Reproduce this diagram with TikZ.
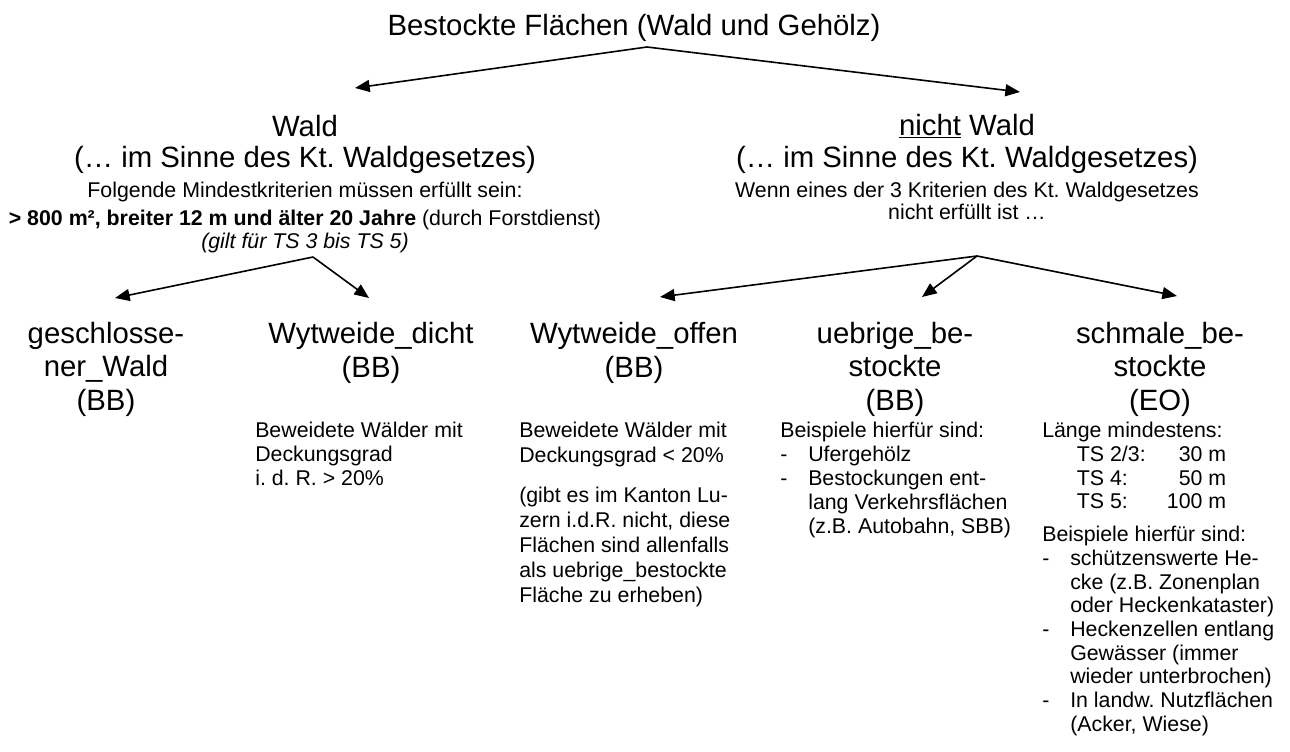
\documentclass[tikz,border=0pt]{standalone}
\usepackage{fontspec}
\setmainfont{Liberation Sans}
\usetikzlibrary{arrows.meta}
\frenchspacing
\tikzset{
  titletext/.style={inner sep=0pt,anchor=base,font=\fontsize{22}{26}\selectfont},
  bigtext/.style={inner sep=0pt,anchor=base,align=center,font=\fontsize{22}{25}\selectfont},
  smalltext/.style={inner sep=0pt,anchor=base,align=center,font=\fontsize{16}{19}\selectfont},
  desc/.style={inner sep=0pt,anchor=base west,align=left,font=\fontsize{16}{18}\selectfont},
  branch/.style={-{Triangle[length=11pt,width=9pt]},line width=1.2pt}
}
\newcommand{\dashline}[1]{\makebox[21pt][l]{-}#1}
\newcommand{\dashcont}[1]{\hspace*{21pt}#1}

\begin{document}
\begin{tikzpicture}[x=0.75pt,y=-0.75pt]
  \useasboundingbox (0,0) rectangle (1290,751);
  % oberste Ebene
  \node[titletext] (root) at (634,35) {Bestockte Flächen (Wald und Gehölz)};
  \coordinate (rootfork) at (647,47);
  \coordinate (waldtip) at (355,88);
  \coordinate (nwaldtip) at (1020,92);
  \draw[branch] (rootfork) -- (waldtip);
  \draw[branch] (rootfork) -- (nwaldtip);

  % Wald / nicht Wald (Position = Grundlinie der letzten Zeile)
  \node[bigtext,font=\fontsize{22}{23.25}\selectfont] (wald) at (305,167)
    {Wald\\(… im Sinne des Kt. Waldgesetzes)};
  \node[smalltext] (waldcrit) at (305,248)
    {Folgende Mindestkriterien müssen erfüllt sein:\\[2pt]
     \textbf{> 800 m², breiter 12 m und älter 20 Jahre} (durch Forstdienst)\\[-2pt]
     \textit{(gilt für TS 3 bis TS 5)}};
  \node[bigtext,font=\fontsize{22}{24}\selectfont] (nwald) at (967,167)
    {\underline{nicht} Wald\\(… im Sinne des Kt. Waldgesetzes)};
  \node[smalltext,font=\fontsize{16}{16.5}\selectfont] (nwaldcrit) at (967,219)
    {Wenn eines der 3 Kriterien des Kt. Waldgesetzes\\nicht erfüllt ist …};

  % Kategorien
  \node[bigtext] (gw) at (106,410) {geschlosse-\\ner\_Wald\\(BB)};
  \node[bigtext] (wd) at (371,377) {Wytweide\_dicht\\(BB)};
  \node[bigtext] (wo) at (634,377) {Wytweide\_offen\\(BB)};
  \node[bigtext] (ub) at (895,410) {uebrige\_be-\\stockte\\(BB)};
  \node[bigtext] (sb) at (1160,410) {schmale\_be-\\stockte\\(EO)};

  \coordinate (waldfork) at (313,257);
  \coordinate (nwaldfork) at (977,256);
  \coordinate (gwtip) at (115,298);
  \coordinate (wdtip) at (369,298);
  \coordinate (wotip) at (660,297);
  \coordinate (ubtip) at (922,297);
  \coordinate (sbtip) at (1177,296);
  \draw[branch] (waldfork) -- (gwtip);
  \draw[branch] (waldfork) -- (wdtip);
  \draw[branch] (nwaldfork) -- (wotip);
  \draw[branch] (nwaldfork) -- (ubtip);
  \draw[branch] (nwaldfork) -- (sbtip);

  % Beschreibungen
  \node[desc] (wdtext) at (255,485)
    {Beweidete Wälder mit\\Deckungsgrad\\i. d. R. > 20\%};
  \node[desc,font=\fontsize{16}{18.75}\selectfont] (wotext) at (519,602)
    {Beweidete Wälder mit\\Deckungsgrad < 20\%\\[11pt]
     (gibt es im Kanton Lu-\\zern i.d.R. nicht, diese\\Flächen sind allenfalls\\
     als uebrige\_bestockte\\Fläche zu erheben)};
  \node[desc] (ubtext) at (780,533)
    {Beispiele hierfür sind:\\\dashline{Ufergehölz}\\\dashline{Bestockungen ent-}\\
     \dashcont{lang Verkehrsflächen}\\\dashcont{(z.B. Autobahn, SBB)}};
  \node[desc,font=\fontsize{16}{17.75}\selectfont] (sbtext) at (1042,731)
    {Länge mindestens:\\
     \hspace*{26pt}\makebox[112pt]{TS 2/3:\hfill 30 m}\\
     \hspace*{26pt}\makebox[112pt]{TS 4:\hfill 50 m}\\
     \hspace*{26pt}\makebox[112pt]{TS 5:\hfill 100 m}\\[7pt]
     Beispiele hierfür sind:\\
     \dashline{schützenswerte He-}\\\dashcont{cke (z.B. Zonenplan}\\
     \dashcont{oder Heckenkataster)}\\\dashline{Heckenzellen entlang}\\
     \dashcont{Gewässer (immer}\\\dashcont{wieder unterbrochen)}\\
     \dashline{In landw. Nutzflächen}\\\dashcont{(Acker, Wiese)}};
\end{tikzpicture}
\end{document}
